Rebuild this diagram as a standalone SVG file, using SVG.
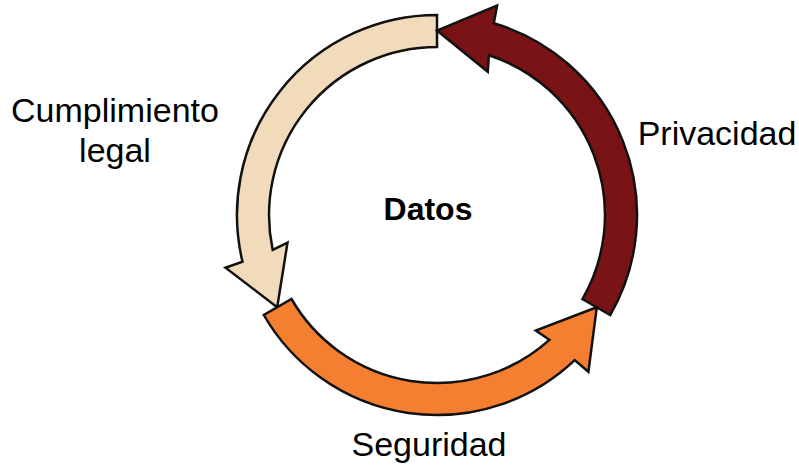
<svg xmlns="http://www.w3.org/2000/svg" width="799" height="468" viewBox="0 0 799 468">
<defs>
<style>
.arr{stroke:#111;stroke-width:2.5;stroke-linejoin:miter}
.lbl{font-family:"Liberation Sans",Arial,sans-serif;font-size:34px;fill:#000}
.ctr{font-family:"Liberation Sans",Arial,sans-serif;font-size:32px;font-weight:bold;fill:#000}
</style>
<path id="arrowShape" d="M 0,-200 A 200 200 0 0 0 -194.5,46.7 L -211.5,52.7 L -159.8,92.25 L -149.5,27.7 L -164.3,34.9 A 168 168 0 0 1 0,-168 Z"/>
</defs>
<rect width="799" height="468" fill="#fff"/>
<g id="connectors" transform="translate(437,215)">
<use id="arrow-cumplimiento" href="#arrowShape" class="arr" fill="#F2DBBB"/>
<use id="arrow-privacidad" href="#arrowShape" class="arr" fill="#7A1316" transform="rotate(120)"/>
<use id="arrow-seguridad" href="#arrowShape" class="arr" fill="#F47F31" transform="rotate(240)"/>
</g>
<g id="node-datos"><text class="ctr" x="428" y="220" text-anchor="middle">Datos</text></g>
<g id="node-privacidad"><text class="lbl" x="717" y="145" text-anchor="middle">Privacidad</text></g>
<g id="node-cumplimiento"><text class="lbl" x="115" y="122" text-anchor="middle">Cumplimiento</text><text class="lbl" x="115" y="162" text-anchor="middle">legal</text></g>
<g id="node-seguridad"><text class="lbl" x="429" y="456" text-anchor="middle">Seguridad</text></g>
</svg>
